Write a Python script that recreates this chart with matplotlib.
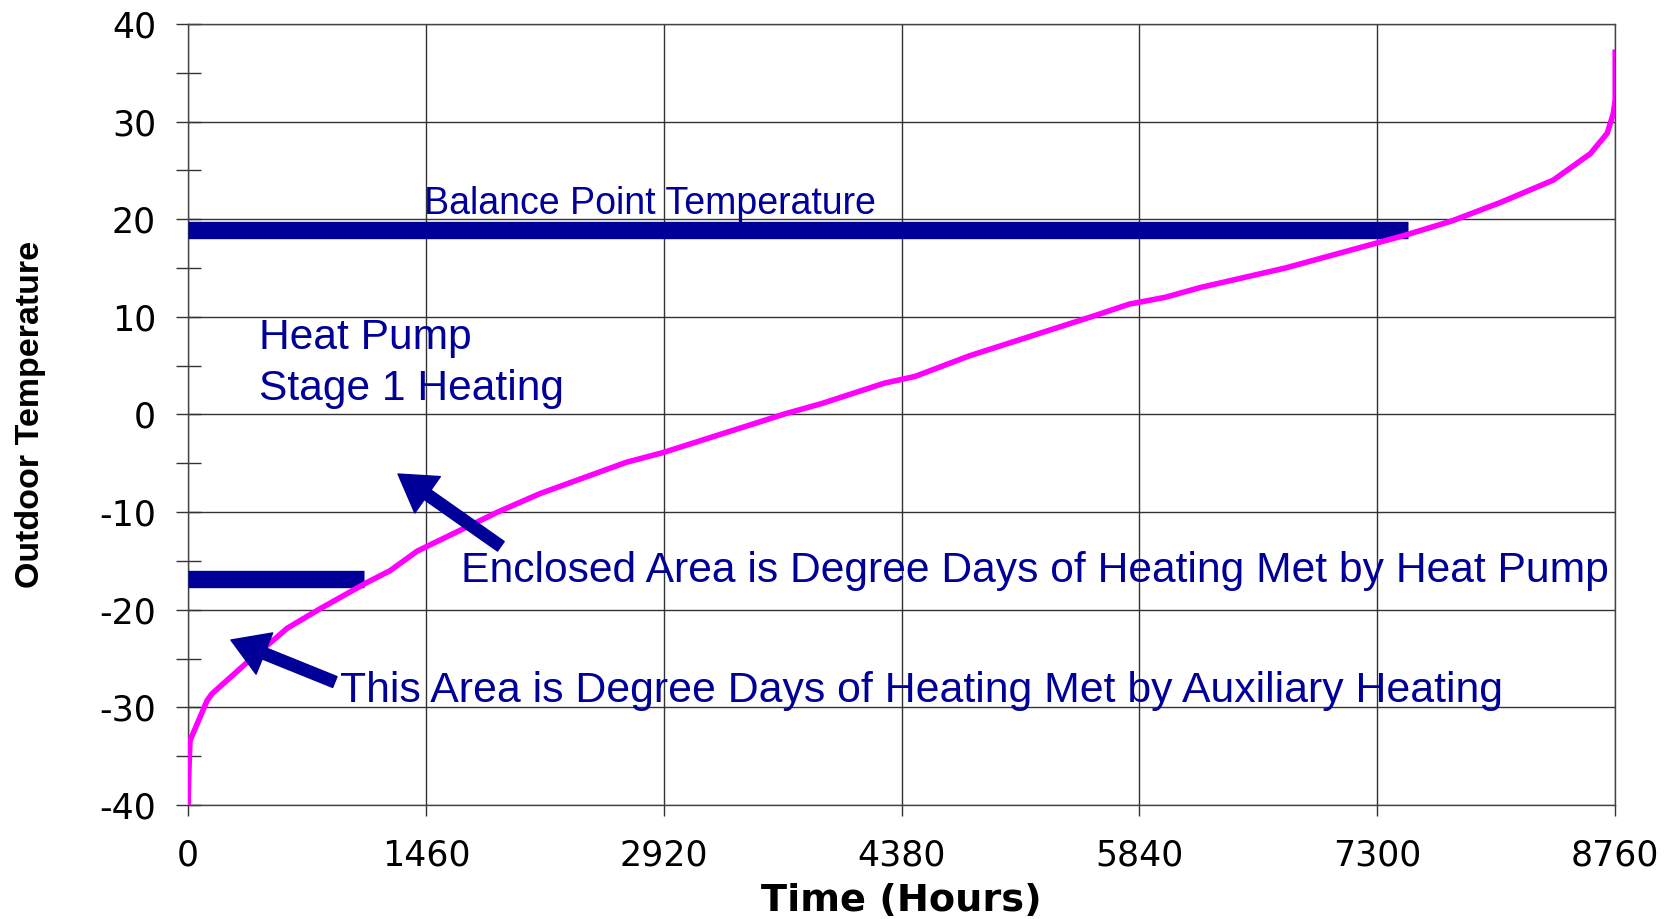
import matplotlib
matplotlib.use("Agg")
import matplotlib.pyplot as plt
from matplotlib.ticker import MultipleLocator

plt.rcParams["axes.unicode_minus"] = False

# sorted hourly outdoor temperature (load duration style curve)
hours = [0, 6, 12, 117, 147, 362, 546, 608, 810, 1099, 1240, 1406, 1900, 2161,
         2690, 2916, 3671, 3886, 4273, 4463, 4795, 5562, 5777, 5998, 6213, 6735,
         7458, 7754, 8054, 8380, 8607, 8711, 8748, 8760, 8760]
temps = [-40, -36.1, -33.4, -29.3, -28.6, -25.4, -22.8, -21.9, -19.9, -17.2, -16.0,
         -14.0, -10.0, -8.1, -4.9, -3.9, 0.1, 1.1, 3.2, 3.9, 6.0, 10.1, 11.3, 12.0,
         13.0, 15.0, 18.3, 19.8, 21.7, 24.0, 26.7, 28.8, 30.8, 32.2, 37.1]

x_ticks = [0, 1460, 2920, 4380, 5840, 7300, 8760]

balance_hours = [0, 7490]
balance_temp = 18.85
aux_hours = [0, 1079]
aux_temp = -16.9

# (tail, tip) of the two arrows
arrow_pump = ((1920, -13.5), (1289, -6.1))
arrow_aux = ((901, -27.4), (263, -23.1))

navy = "#000099"
magenta = "#FF00FF"

fig = plt.figure(figsize=(16.79, 9.19), dpi=100)
ax = fig.add_axes([0.112, 0.124, 0.85, 0.85])

ax.plot(balance_hours, [balance_temp] * 2, color=navy, lw=12.5, solid_capstyle="butt", zorder=3)
ax.plot(aux_hours, [aux_temp] * 2, color=navy, lw=12.5, solid_capstyle="butt", zorder=3)
ax.plot(hours, temps, color=magenta, lw=4, zorder=4)

for tail, tip in [arrow_pump, arrow_aux]:
    ax.annotate("", xy=tip, xytext=tail,
                arrowprops=dict(arrowstyle="simple,head_length=1.3,head_width=1.6,tail_width=0.42",
                                fc=navy, ec=navy, mutation_scale=20,
                                shrinkA=0, shrinkB=0), zorder=5)

txt = dict(color=navy, family="Liberation Sans")
ax.text(1447, 21.6, "Balance Point Temperature", fontsize=27, va="center", **txt)
ax.text(434, 5.2, "Heat Pump\nStage 1 Heating", fontsize=30.6, va="center", linespacing=1.35, **txt)
ax.text(1677, -16.0, "Enclosed Area is Degree Days of Heating Met by Heat Pump",
        fontsize=30.7, va="center", **txt)
ax.text(934, -28.3, "This Area is Degree Days of Heating Met by Auxiliary Heating",
        fontsize=30.8, va="center", **txt)

ax.set_xlim(0, 8760)
ax.set_ylim(-40, 40)
ax.set_xticks(x_ticks)
ax.set_yticks(range(-40, 41, 10))
ax.yaxis.set_minor_locator(MultipleLocator(5))
ax.grid(True, which="major", color="#333333", lw=1.0)
for s in ax.spines.values():
    s.set_color("#444444")
    s.set_linewidth(1.0)

ax.tick_params(axis="y", which="both", direction="inout", length=18, width=1,
               pad=14, labelsize=25, color="#333333")
ax.tick_params(axis="x", direction="out", length=8, width=1, pad=16, labelsize=25,
               color="#333333")
for lab in ax.get_xticklabels() + ax.get_yticklabels():
    lab.set_family("DejaVu Sans")

ax.set_xlabel("Time (Hours)", fontsize=27.5, fontweight="bold", family="DejaVu Sans", labelpad=8)
ax.set_ylabel("Outdoor Temperature", fontsize=24.5, fontweight="bold", family="Liberation Sans",
              labelpad=38)

fig.savefig("out.png", dpi=100)
